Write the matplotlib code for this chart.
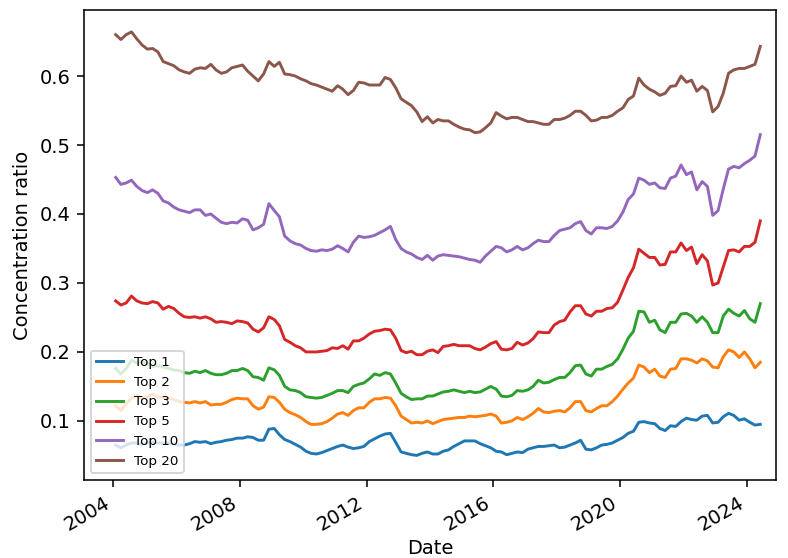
import matplotlib
matplotlib.use('Agg')
import pandas as pd
import matplotlib.pyplot as plt
import matplotlib.dates as mdates

# bimonthly readings, Feb 2004 - Jun 2024
dates = pd.date_range('2004-02-01', periods=123, freq='2MS')

top1 = [0.065, 0.061, 0.065, 0.068, 0.068, 0.066, 0.068, 0.069, 0.068, 0.068,
        0.068, 0.066, 0.065, 0.065, 0.067, 0.070, 0.069, 0.070, 0.067, 0.069,
        0.070, 0.072, 0.073, 0.075, 0.075, 0.077, 0.076, 0.072, 0.072, 0.088,
        0.089, 0.080, 0.073, 0.070, 0.066, 0.062, 0.056, 0.053, 0.052, 0.054,
        0.057, 0.060, 0.063, 0.065, 0.062, 0.060, 0.061, 0.063, 0.070, 0.074,
        0.078, 0.081, 0.082, 0.069, 0.055, 0.053, 0.051, 0.050, 0.053, 0.055,
        0.052, 0.052, 0.056, 0.058, 0.063, 0.067, 0.071, 0.071, 0.071, 0.067,
        0.064, 0.061, 0.056, 0.055, 0.051, 0.053, 0.055, 0.054, 0.059, 0.061,
        0.063, 0.063, 0.064, 0.065, 0.061, 0.062, 0.065, 0.068, 0.072, 0.059,
        0.058, 0.061, 0.065, 0.066, 0.068, 0.072, 0.076, 0.082, 0.085, 0.098,
        0.099, 0.097, 0.096, 0.089, 0.086, 0.093, 0.092, 0.099, 0.104, 0.102,
        0.101, 0.107, 0.108, 0.097, 0.098, 0.106, 0.111, 0.108, 0.101, 0.103,
        0.098, 0.094, 0.095]

top2 = [0.122, 0.115, 0.125, 0.133, 0.137, 0.132, 0.135, 0.139, 0.135, 0.134,
        0.133, 0.131, 0.128, 0.127, 0.126, 0.128, 0.126, 0.128, 0.123, 0.124,
        0.124, 0.127, 0.131, 0.133, 0.132, 0.132, 0.122, 0.117, 0.120, 0.135,
        0.134, 0.127, 0.117, 0.112, 0.109, 0.105, 0.099, 0.095, 0.095, 0.096,
        0.099, 0.104, 0.110, 0.112, 0.108, 0.115, 0.119, 0.119, 0.127, 0.132,
        0.132, 0.134, 0.133, 0.122, 0.107, 0.102, 0.097, 0.098, 0.097, 0.100,
        0.096, 0.099, 0.102, 0.103, 0.104, 0.105, 0.105, 0.107, 0.106, 0.107,
        0.108, 0.110, 0.107, 0.097, 0.098, 0.100, 0.105, 0.102, 0.106, 0.111,
        0.118, 0.113, 0.112, 0.114, 0.115, 0.113, 0.119, 0.128, 0.128, 0.115,
        0.113, 0.118, 0.122, 0.122, 0.128, 0.136, 0.146, 0.155, 0.162, 0.181,
        0.178, 0.170, 0.175, 0.165, 0.163, 0.175, 0.176, 0.190, 0.190, 0.188,
        0.184, 0.190, 0.187, 0.178, 0.177, 0.193, 0.203, 0.200, 0.192, 0.200,
        0.190, 0.177, 0.185]

top3 = [0.176, 0.168, 0.176, 0.188, 0.184, 0.186, 0.183, 0.179, 0.180, 0.178,
        0.176, 0.174, 0.173, 0.170, 0.169, 0.172, 0.170, 0.173, 0.169, 0.167,
        0.167, 0.169, 0.173, 0.173, 0.176, 0.173, 0.164, 0.163, 0.159, 0.177,
        0.174, 0.166, 0.150, 0.145, 0.144, 0.141, 0.135, 0.134, 0.133, 0.134,
        0.137, 0.140, 0.144, 0.144, 0.141, 0.150, 0.153, 0.155, 0.161, 0.168,
        0.166, 0.170, 0.168, 0.155, 0.140, 0.135, 0.131, 0.132, 0.132, 0.136,
        0.136, 0.139, 0.142, 0.143, 0.145, 0.143, 0.141, 0.143, 0.141, 0.142,
        0.146, 0.150, 0.146, 0.136, 0.135, 0.137, 0.144, 0.143, 0.145, 0.150,
        0.159, 0.155, 0.156, 0.160, 0.163, 0.163, 0.170, 0.180, 0.181, 0.168,
        0.165, 0.175, 0.175, 0.179, 0.182, 0.190, 0.204, 0.220, 0.230, 0.259,
        0.258, 0.243, 0.246, 0.232, 0.228, 0.243, 0.243, 0.255, 0.256, 0.252,
        0.243, 0.251, 0.243, 0.228, 0.228, 0.252, 0.262, 0.256, 0.252, 0.260,
        0.248, 0.243, 0.270]

top5 = [0.274, 0.268, 0.271, 0.281, 0.274, 0.271, 0.270, 0.273, 0.271, 0.262,
        0.266, 0.263, 0.256, 0.251, 0.250, 0.251, 0.249, 0.251, 0.248, 0.243,
        0.244, 0.243, 0.241, 0.245, 0.244, 0.242, 0.233, 0.229, 0.235, 0.251,
        0.247, 0.238, 0.218, 0.214, 0.209, 0.206, 0.200, 0.200, 0.200, 0.201,
        0.202, 0.206, 0.205, 0.209, 0.204, 0.216, 0.216, 0.220, 0.226, 0.230,
        0.231, 0.233, 0.232, 0.220, 0.202, 0.199, 0.201, 0.196, 0.196, 0.201,
        0.203, 0.199, 0.208, 0.209, 0.211, 0.209, 0.209, 0.209, 0.205, 0.203,
        0.207, 0.212, 0.215, 0.204, 0.203, 0.205, 0.214, 0.210, 0.213, 0.219,
        0.229, 0.228, 0.228, 0.239, 0.244, 0.246, 0.258, 0.267, 0.267, 0.255,
        0.252, 0.259, 0.259, 0.263, 0.264, 0.272, 0.290, 0.308, 0.322, 0.349,
        0.343, 0.337, 0.337, 0.326, 0.327, 0.345, 0.345, 0.358, 0.347, 0.352,
        0.328, 0.341, 0.332, 0.297, 0.300, 0.323, 0.347, 0.348, 0.345, 0.353,
        0.353, 0.359, 0.390]

top10 = [0.453, 0.443, 0.445, 0.449, 0.440, 0.434, 0.431, 0.435, 0.430, 0.419,
         0.416, 0.410, 0.406, 0.404, 0.402, 0.406, 0.406, 0.398, 0.400, 0.394,
         0.388, 0.386, 0.388, 0.387, 0.393, 0.391, 0.377, 0.380, 0.385, 0.415,
         0.405, 0.396, 0.368, 0.361, 0.357, 0.355, 0.350, 0.347, 0.346, 0.348,
         0.347, 0.349, 0.354, 0.350, 0.345, 0.359, 0.368, 0.366, 0.367, 0.369,
         0.373, 0.377, 0.382, 0.363, 0.350, 0.345, 0.342, 0.337, 0.334, 0.340,
         0.333, 0.339, 0.341, 0.340, 0.339, 0.338, 0.336, 0.334, 0.333, 0.330,
         0.339, 0.346, 0.353, 0.351, 0.345, 0.348, 0.353, 0.348, 0.351, 0.357,
         0.362, 0.360, 0.360, 0.369, 0.376, 0.378, 0.380, 0.386, 0.389, 0.376,
         0.371, 0.380, 0.380, 0.379, 0.382, 0.390, 0.403, 0.421, 0.429, 0.452,
         0.449, 0.443, 0.445, 0.438, 0.437, 0.452, 0.455, 0.471, 0.457, 0.461,
         0.435, 0.447, 0.440, 0.398, 0.405, 0.436, 0.465, 0.469, 0.467, 0.473,
         0.478, 0.484, 0.515]

top20 = [0.660, 0.653, 0.660, 0.664, 0.654, 0.645, 0.639, 0.640, 0.635, 0.621,
         0.618, 0.615, 0.609, 0.606, 0.604, 0.610, 0.612, 0.611, 0.617, 0.609,
         0.604, 0.606, 0.612, 0.614, 0.616, 0.607, 0.600, 0.593, 0.603, 0.621,
         0.614, 0.620, 0.603, 0.602, 0.600, 0.596, 0.593, 0.589, 0.587, 0.584,
         0.581, 0.578, 0.586, 0.581, 0.573, 0.579, 0.591, 0.590, 0.587, 0.587,
         0.587, 0.598, 0.595, 0.583, 0.567, 0.562, 0.557, 0.548, 0.534, 0.541,
         0.532, 0.537, 0.535, 0.535, 0.530, 0.526, 0.523, 0.522, 0.518, 0.519,
         0.525, 0.532, 0.547, 0.542, 0.538, 0.540, 0.540, 0.537, 0.534, 0.534,
         0.532, 0.530, 0.530, 0.537, 0.537, 0.539, 0.543, 0.549, 0.549, 0.543,
         0.535, 0.536, 0.540, 0.540, 0.543, 0.549, 0.554, 0.566, 0.571, 0.597,
         0.587, 0.581, 0.577, 0.572, 0.575, 0.585, 0.586, 0.600, 0.591, 0.594,
         0.578, 0.585, 0.579, 0.548, 0.556, 0.575, 0.604, 0.609, 0.611, 0.611,
         0.614, 0.617, 0.643]

series = [top1, top2, top3, top5, top10, top20]
labels = ['Top 1', 'Top 2', 'Top 3', 'Top 5', 'Top 10', 'Top 20']

fig, ax = plt.subplots(figsize=(788 / 140, 558 / 140), dpi=140)
fig.subplots_adjust(left=0.1066, right=0.985, top=0.982, bottom=0.14)

for vals, lab in zip(series, labels):
    ax.plot(dates, vals, label=lab)

ax.set_xlim(pd.Timestamp('2003-02-01'), pd.Timestamp('2024-12-01'))
ax.set_ylim(0.0145, 0.6957)
ax.xaxis.set_major_locator(mdates.YearLocator(4))
ax.xaxis.set_major_formatter(mdates.DateFormatter('%Y'))
plt.setp(ax.get_xticklabels(), rotation=30, ha='right')

ax.set_xlabel('Date', labelpad=2.5)
ax.set_ylabel('Concentration ratio')
ax.legend(loc='lower left', fontsize='x-small')

fig.savefig('out.png', dpi=140)
